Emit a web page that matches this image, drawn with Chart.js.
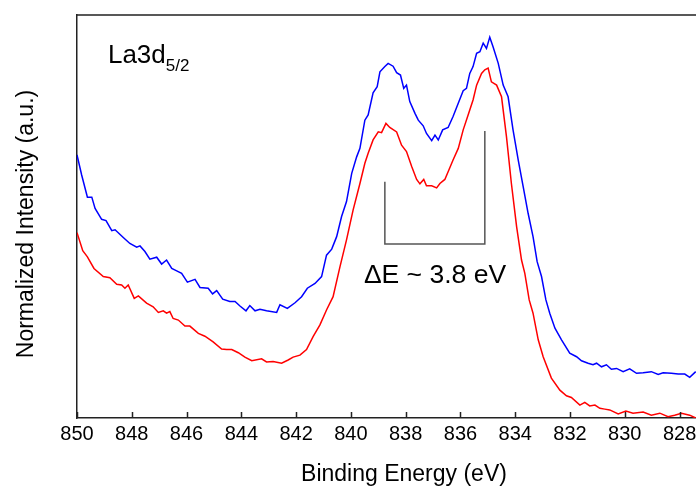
<!DOCTYPE html>
<html>
<head>
<meta charset="utf-8">
<script src="https://cdn.jsdelivr.net/npm/chart.js@4"></script>
<style>
    html, body { margin: 0; padding: 0; background: #fff; }
    #wrap { width: 696px; height: 486px; }
</style>
</head>
<body>
<div id="wrap"><canvas id="xpsChart" width="696" height="486"></canvas></div>
<script>
// Binding energy axis ticks (eV)
const tickValues = [850, 848, 846, 844, 842, 840, 838, 836, 834, 832, 830, 828];

// Blue spectrum
const blueEnergy = [850.00, 849.83, 849.62, 849.46, 849.34, 849.10, 848.94, 848.73, 848.61, 848.31,
    848.07, 847.82, 847.70, 847.52, 847.34, 847.09, 846.91, 846.73, 846.54, 846.36,
    846.18, 845.97, 845.69, 845.51, 845.21, 845.05, 844.90, 844.68, 844.42, 844.23,
    844.05, 843.83, 843.69, 843.50, 843.32, 843.08, 842.71, 842.59, 842.32, 842.04,
    841.80, 841.59, 841.31, 841.07, 840.89, 840.70, 840.52, 840.34, 840.16, 839.97,
    839.79, 839.67, 839.49, 839.37, 839.19, 839.04, 838.94, 838.76, 838.64, 838.46,
    838.33, 838.19, 838.07, 837.97, 837.85, 837.66, 837.54, 837.36, 837.24, 837.05,
    836.93, 836.81, 836.65, 836.45, 836.27, 836.08, 835.90, 835.78, 835.66, 835.54,
    835.41, 835.29, 835.17, 835.05, 834.93, 834.81, 834.62, 834.44, 834.26, 834.08,
    833.89, 833.71, 833.53, 833.35, 833.20, 833.04, 832.88, 832.74, 832.55, 832.31,
    832.01, 831.76, 831.58, 831.34, 831.16, 831.03, 830.85, 830.67, 830.49, 830.30,
    830.06, 829.82, 829.57, 829.33, 829.03, 828.78, 828.60, 828.30, 828.05, 827.81,
    827.63, 827.41];
const blueIntensity = [0.653, 0.603, 0.548, 0.548, 0.520, 0.493, 0.490, 0.465, 0.467, 0.448,
    0.433, 0.424, 0.427, 0.413, 0.394, 0.399, 0.382, 0.392, 0.371, 0.365,
    0.359, 0.337, 0.344, 0.324, 0.322, 0.308, 0.316, 0.295, 0.289, 0.289,
    0.278, 0.266, 0.279, 0.266, 0.270, 0.266, 0.262, 0.281, 0.272, 0.286,
    0.301, 0.322, 0.334, 0.351, 0.404, 0.419, 0.450, 0.500, 0.537, 0.607,
    0.648, 0.669, 0.739, 0.752, 0.807, 0.822, 0.859, 0.872, 0.880, 0.873,
    0.857, 0.851, 0.818, 0.826, 0.785, 0.756, 0.739, 0.725, 0.706, 0.688,
    0.702, 0.690, 0.715, 0.721, 0.748, 0.781, 0.812, 0.818, 0.855, 0.872,
    0.905, 0.909, 0.930, 0.917, 0.945, 0.921, 0.880, 0.826, 0.797, 0.715,
    0.640, 0.574, 0.508, 0.450, 0.388, 0.351, 0.293, 0.260, 0.223, 0.194,
    0.161, 0.152, 0.142, 0.136, 0.132, 0.136, 0.127, 0.132, 0.121, 0.123,
    0.115, 0.122, 0.111, 0.112, 0.115, 0.108, 0.112, 0.111, 0.109, 0.109,
    0.101, 0.115];

// Red spectrum
const redEnergy = [850.00, 849.79, 849.62, 849.38, 849.04, 848.80, 848.55, 848.37, 848.25, 848.13,
    847.91, 847.76, 847.46, 847.22, 847.03, 846.85, 846.73, 846.61, 846.49, 846.30,
    846.06, 845.88, 845.57, 845.33, 845.03, 844.72, 844.54, 844.35, 844.11, 843.87,
    843.62, 843.26, 843.08, 842.84, 842.53, 842.29, 842.11, 841.86, 841.62, 841.38,
    841.13, 840.89, 840.65, 840.40, 840.16, 839.92, 839.67, 839.49, 839.37, 839.19,
    839.00, 838.88, 838.72, 838.58, 838.33, 838.15, 837.97, 837.78, 837.60, 837.48,
    837.34, 837.24, 837.05, 836.87, 836.75, 836.57, 836.45, 836.27, 836.08, 835.90,
    835.72, 835.54, 835.41, 835.23, 835.11, 834.99, 834.87, 834.68, 834.50, 834.32,
    834.14, 833.95, 833.77, 833.65, 833.49, 833.35, 833.16, 832.98, 832.68, 832.37,
    832.13, 831.95, 831.64, 831.46, 831.28, 831.09, 830.91, 830.73, 830.55, 830.24,
    829.96, 829.70, 829.33, 829.03, 828.72, 828.42, 828.18, 827.93, 827.63, 827.41];
const redIntensity = [0.460, 0.415, 0.400, 0.371, 0.351, 0.348, 0.332, 0.330, 0.322, 0.330,
    0.297, 0.303, 0.285, 0.276, 0.262, 0.266, 0.260, 0.264, 0.247, 0.243,
    0.228, 0.228, 0.210, 0.203, 0.189, 0.171, 0.170, 0.170, 0.162, 0.151,
    0.142, 0.147, 0.139, 0.140, 0.136, 0.144, 0.151, 0.156, 0.170, 0.202,
    0.231, 0.268, 0.301, 0.375, 0.442, 0.516, 0.582, 0.632, 0.657, 0.690,
    0.710, 0.708, 0.731, 0.721, 0.710, 0.677, 0.661, 0.624, 0.592, 0.581,
    0.592, 0.576, 0.576, 0.571, 0.582, 0.592, 0.611, 0.640, 0.669, 0.715,
    0.752, 0.789, 0.826, 0.855, 0.864, 0.868, 0.834, 0.826, 0.797, 0.698,
    0.582, 0.475, 0.392, 0.359, 0.293, 0.260, 0.194, 0.152, 0.099, 0.069,
    0.055, 0.051, 0.032, 0.039, 0.030, 0.032, 0.024, 0.022, 0.020, 0.010,
    0.017, 0.012, 0.015, 0.007, 0.012, 0.003, 0.007, 0.012, 0.007, 0.000];

// Peak separation bracket
const bracketEnergy = [838.76, 838.76, 835.11, 835.11];
const bracketIntensity = [0.586, 0.432, 0.432, 0.712];

const xMin = 827.4, xMax = 850;
const axisColor = '#222';
const fontFamily = "'Liberation Sans', Arial, sans-serif";

const toPoints = (xs, ys) => xs.map((x, i) => ({ x: x, y: ys[i] }));

// Draws the top frame line, inward ticks, axis titles and in-plot labels
const annotations = {
    id: 'annotations',
    afterDraw(chart) {
        const { ctx, chartArea, scales } = chart;
        const xs = scales.x, ys = scales.y;
        ctx.save();
        ctx.strokeStyle = axisColor;
        ctx.lineWidth = 1.5;
        ctx.beginPath();
        ctx.moveTo(chartArea.left, chartArea.top);
        ctx.lineTo(chartArea.right, chartArea.top);
        tickValues.forEach(v => {
            const px = Math.round(xs.getPixelForValue(v)) + 0.5;
            ctx.moveTo(px, chartArea.bottom);
            ctx.lineTo(px, chartArea.bottom - 6);
        });
        ctx.stroke();

        ctx.fillStyle = '#000';
        ctx.textBaseline = 'alphabetic';

        // axis titles
        ctx.textAlign = 'center';
        ctx.font = '23px ' + fontFamily;
        ctx.fillText('Binding Energy (eV)', 404, 481);
        ctx.save();
        ctx.translate(33, 224);
        ctx.rotate(-Math.PI / 2);
        ctx.fillText('Normalized Intensity (a.u.)', 0, 0);
        ctx.restore();

        // La3d5/2
        ctx.textAlign = 'left';
        ctx.font = '26px ' + fontFamily;
        const lx = xs.getPixelForValue(848.87), ly = ys.getPixelForValue(0.880);
        ctx.fillText('La3d', lx, ly);
        const w = ctx.measureText('La3d').width;
        ctx.font = '17px ' + fontFamily;
        ctx.fillText('5/2', lx + w, ly + 8);

        // ΔE label
        ctx.textAlign = 'center';
        ctx.font = '26.5px ' + fontFamily;
        ctx.fillText('ΔE ~ 3.8 eV', xs.getPixelForValue(836.93), ys.getPixelForValue(0.334));
        ctx.restore();
    }
};

function drawChart() {
    const ctx = document.getElementById('xpsChart');
    new Chart(ctx.getContext('2d'), {
        type: 'line',
        data: {
            datasets: [
                {
                    data: toPoints(blueEnergy, blueIntensity),
                    borderColor: '#0000ff',
                    borderWidth: 1.5,
                    pointRadius: 0,
                    tension: 0
                },
                {
                    data: toPoints(redEnergy, redIntensity),
                    borderColor: '#ff0000',
                    borderWidth: 1.5,
                    pointRadius: 0,
                    tension: 0
                },
                {
                    data: toPoints(bracketEnergy, bracketIntensity),
                    borderColor: '#555',
                    borderWidth: 1.5,
                    pointRadius: 0,
                    tension: 0
                }
            ]
        },
        options: {
            responsive: false,
            animation: false,
            layout: { padding: { top: 15, right: 0, left: 0, bottom: 0 } },
            plugins: {
                legend: { display: false },
                tooltip: { enabled: false }
            },
            scales: {
                x: {
                    type: 'linear',
                    reverse: true,
                    min: xMin,
                    max: xMax,
                    afterBuildTicks: scale => { scale.ticks = tickValues.map(v => ({ value: v })); },
                    afterFit: scale => { scale.height = 68; scale.paddingLeft = 0; scale.paddingRight = 0; },
                    grid: { display: true, drawOnChartArea: false, drawTicks: false },
                    border: { display: true, color: axisColor, width: 1.5 },
                    ticks: {
                        color: '#000',
                        padding: 4,
                        maxRotation: 0,
                        autoSkip: false,
                        font: { family: fontFamily, size: 20 },
                        callback: v => v
                    },
                    title: { display: false }
                },
                y: {
                    min: 0,
                    max: 1,
                    afterFit: scale => { scale.width = 77; },
                    grid: { display: false, drawTicks: false },
                    border: { display: true, color: axisColor, width: 1.5 },
                    ticks: { display: false },
                    title: { display: false }
                }
            }
        },
        plugins: [annotations]
    });
}

drawChart();
</script>
</body>
</html>
